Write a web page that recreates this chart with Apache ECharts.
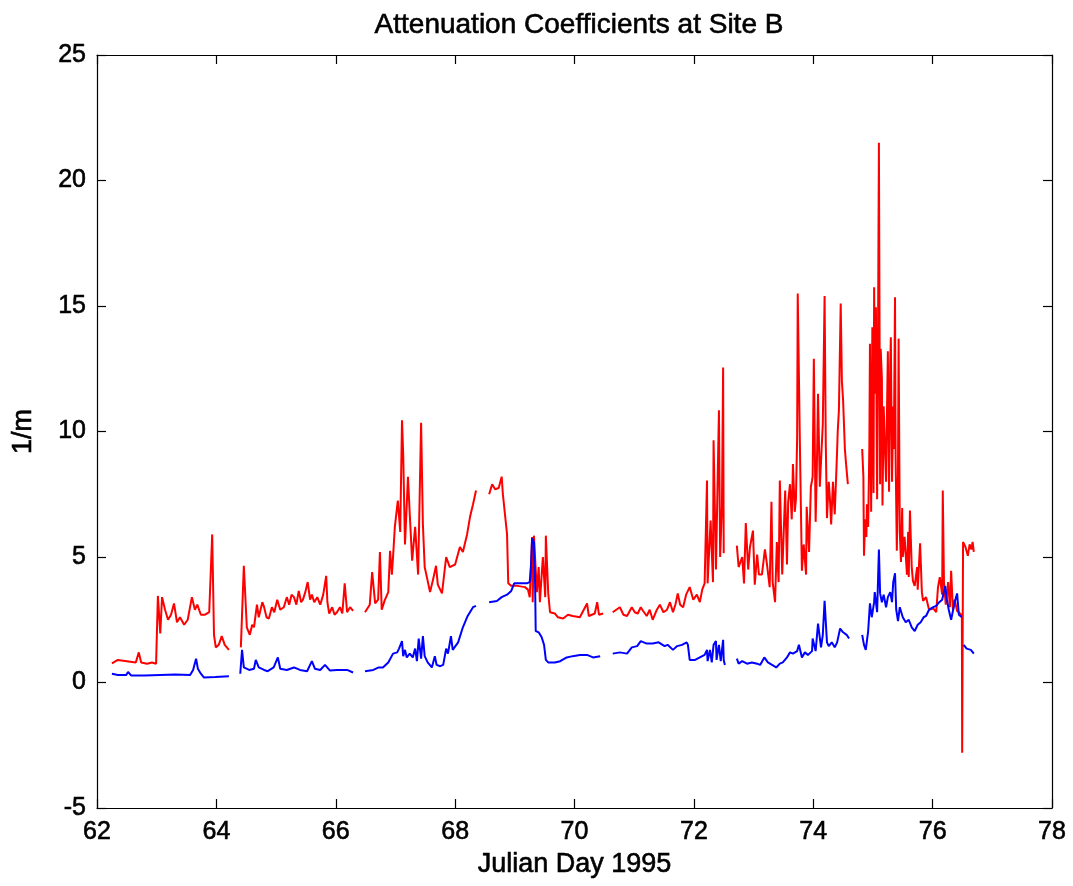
<!DOCTYPE html>
<html>
<head>
<meta charset="utf-8">
<script src="https://cdn.jsdelivr.net/npm/echarts@6/dist/echarts.min.js"></script>
<style>
  html, body { margin: 0; padding: 0; background: #fff; }
  #chart { width: 1073px; height: 886px; }
</style>
</head>
<body>
<div id="chart"></div>
<script>
// Julian day / coefficient pairs, null value = gap in the record
var redDay = [
  62.25, 62.35, 62.5, 62.65, 62.70, 62.74, 62.84, 62.92, 62.99, 63.02, 63.06, 63.09, 63.14, 63.19, 63.24, 63.29, 63.34, 63.39, 63.46, 63.52,
  63.59, 63.64, 63.68, 63.74, 63.81, 63.88, 63.93, 63.96, 63.99, 64.04, 64.09, 64.14, 64.21, 64.3,
  64.41, 64.46, 64.51, 64.56, 64.60, 64.63, 64.68, 64.71, 64.73, 64.77, 64.80, 64.84, 64.88, 64.93, 64.97, 65.02, 65.07, 65.13, 65.18, 65.22,
  65.26, 65.30, 65.34, 65.38, 65.42, 65.45, 65.49, 65.53, 65.57, 65.60, 65.64, 65.69, 65.74, 65.79, 65.84, 65.86, 65.89, 65.94, 65.98, 66.02,
  66.07, 66.11, 66.15, 66.19, 66.24, 66.29, 66.4,
  66.49, 66.57, 66.61, 66.66, 66.71, 66.74, 66.77, 66.82, 66.88, 66.91, 66.94, 66.96, 66.99, 67.04, 67.08, 67.11, 67.13, 67.16, 67.21, 67.24,
  67.28, 67.33, 67.38, 67.43, 67.46, 67.49, 67.54, 67.58, 67.63, 67.68, 67.71, 67.78, 67.85, 67.91, 68.0, 68.08, 68.13, 68.20, 68.25, 68.30,
  68.35, 68.45,
  68.57, 68.62, 68.67, 68.73, 68.78, 68.80, 68.87, 68.89, 68.94, 69.04, 69.17, 69.22, 69.25, 69.29, 69.30, 69.32, 69.37, 69.40, 69.42, 69.47,
  69.51, 69.52, 69.56, 69.59, 69.67, 69.72, 69.81, 69.89, 69.97, 70.09, 70.21, 70.24, 70.34, 70.38, 70.41, 70.48, 70.55,
  70.64, 70.70, 70.76, 70.82, 70.88, 70.96, 71.01, 71.06, 71.11, 71.15, 71.21, 71.26, 71.31, 71.38, 71.43, 71.49, 71.55, 71.60, 71.65, 71.69,
  71.73, 71.77, 71.82, 71.87, 71.93, 71.99, 72.05, 72.10, 72.14, 72.18, 72.22, 72.23,
  72.28, 72.32, 72.33, 72.37, 72.40, 72.42, 72.44, 72.47, 72.49, 72.50, 72.6,
  72.72, 72.75, 72.81, 72.84, 72.87, 72.91, 72.94, 72.99, 73.02, 73.06, 73.09, 73.14, 73.19, 73.22, 73.27, 73.30, 73.32, 73.36, 73.39, 73.42,
  73.44, 73.48, 73.53, 73.56, 73.58, 73.61, 73.64, 73.66, 73.69, 73.71, 73.73, 73.74, 73.78, 73.79, 73.81, 73.84, 73.88, 73.89, 73.93, 73.96,
  73.98, 73.99, 74.01, 74.04, 74.06, 74.08, 74.11, 74.14, 74.16, 74.19, 74.21, 74.23, 74.26, 74.28, 74.30, 74.33, 74.36, 74.40, 74.41, 74.43,
  74.46, 74.48, 74.50, 74.51, 74.53, 74.55, 74.58, 74.7,
  74.82, 74.84, 74.85, 74.87, 74.89, 74.90, 74.92, 74.94, 74.95, 74.97, 74.99, 75.00, 75.01, 75.02, 75.03, 75.05, 75.07, 75.08, 75.10, 75.12,
  75.13, 75.15, 75.16, 75.18, 75.20, 75.22, 75.23, 75.25, 75.27, 75.29, 75.30, 75.32, 75.34, 75.35, 75.37, 75.38, 75.40, 75.42, 75.43, 75.45,
  75.47, 75.49, 75.50, 75.53, 75.57, 75.59, 75.60, 75.62, 75.65, 75.67, 75.70, 75.74, 75.75, 75.79, 75.82, 75.84, 75.89, 75.94, 76.01, 76.06,
  76.09, 76.12, 76.16, 76.17, 76.19, 76.22, 76.26, 76.29, 76.31, 76.34, 76.37, 76.41, 76.46, 76.49, 76.495, 76.51, 76.55, 76.59, 76.62, 76.65,
  76.67, 76.69
];
var redVal = [
  0.76, 0.9, 0.85, 0.8, 1.2, 0.8, 0.75, 0.8, 0.75, 3.45, 1.95, 3.4, 2.9, 2.5, 2.7, 3.15, 2.4, 2.6, 2.3, 2.5,
  3.4, 2.9, 3.1, 2.7, 2.7, 2.8, 5.9, 1.9, 1.4, 1.5, 1.85, 1.5, 1.3, null,
  1.4, 4.65, 2.2, 1.9, 2.3, 2.2, 3.1, 2.6, 2.8, 3.2, 3.0, 2.6, 2.55, 3.0, 2.8, 3.3, 2.9, 3.0, 3.4, 3.1,
  3.5, 3.4, 3.1, 3.65, 3.2, 3.3, 3.6, 4.0, 3.3, 3.5, 3.2, 3.4, 3.1, 3.5, 4.25, 3.2, 2.75, 3.0, 2.7, 2.8,
  3.0, 2.75, 3.95, 2.8, 3.0, 2.85, null,
  2.8, 3.1, 4.4, 3.15, 3.3, 5.2, 2.9, 3.27, 3.6, 5.25, 4.3, 5.0, 6.2, 7.25, 6.0, 10.45, 9.1, 5.5, 8.2, 6.7,
  4.85, 6.2, 4.3, 10.35, 6.3, 4.6, 4.05, 3.6, 4.1, 4.65, 3.9, 3.55, 5.0, 4.6, 4.7, 5.4, 5.2, 5.9, 6.6, 7.1,
  7.65, null,
  7.5, 7.9, 7.7, 7.75, 8.2, 7.5, 5.9, 3.95, 3.85, 3.85, 3.8, 3.7, 3.4, 5.8, 3.2, 5.85, 3.6, 4.6, 3.2, 5.0,
  3.4, 5.85, 3.55, 2.8, 2.75, 2.6, 2.55, 2.7, 2.65, 2.6, 3.15, 2.65, 2.75, 3.2, 2.7, 2.75, null,
  2.8, 2.9, 3.0, 2.7, 2.65, 3.0, 2.8, 2.75, 3.0, 2.85, 2.65, 2.9, 2.5, 2.9, 3.1, 2.8, 2.9, 3.2, 2.8, 3.1,
  3.55, 3.1, 3.0, 3.5, 3.8, 3.3, 3.5, 3.2, 3.7, 3.95, 8.05, 3.95,
  6.45, 4.0, 9.65, 4.5, 8.3, 10.85, 5.0, 7.0, 12.55, 5.15, null,
  5.45, 4.6, 5.0, 3.95, 6.35, 4.5, 5.4, 6.05, 3.9, 5.1, 4.3, 4.3, 5.3, 4.8, 3.8, 7.2, 4.0, 3.2, 5.6, 4.0,
  8.05, 4.3, 7.65, 4.7, 7.2, 7.9, 6.5, 8.7, 6.8, 7.3, 9.75, 15.5, 8.9, 7.4, 4.45, 5.5, 4.3, 7.0, 5.2, 7.8,
  8.05, 8.2, 12.9, 6.4, 8.5, 11.5, 7.8, 9.3, 10.3, 15.4, 9.5, 6.55, 8.0, 7.3, 6.3, 8.0, 6.7, 9.25, 10.0, 10.85,
  15.1, 12.0, 11.25, 10.6, 9.3, 8.7, 7.9, null,
  9.3, 8.2, 5.05, 6.5, 5.8, 7.1, 6.2, 9.4, 13.5, 6.8, 14.15, 10.5, 7.55, 15.75, 11.5, 14.95, 7.3, 11.0, 21.5, 7.9,
  13.3, 12.1, 7.05, 11.0, 9.4, 8.0, 9.9, 13.2, 7.6, 12.7, 13.75, 8.0, 11.0, 9.3, 15.35, 9.0, 5.25, 8.3, 13.7, 6.0,
  4.8, 6.95, 5.0, 5.8, 4.3, 6.0, 4.2, 6.85, 4.6, 4.05, 3.85, 4.6, 3.7, 5.55, 3.6, 3.25, 3.4, 2.9, 2.95, 2.8,
  3.8, 4.2, 3.5, 7.65, 4.0, 3.1, 4.0, 3.0, 4.45, 2.9, 3.3, 2.85, 2.75, 2.65, -2.8, 5.6, 5.4, 5.05, 5.5, 5.3,
  5.6, 5.2
];

var blueDay = [
  62.25, 62.35, 62.49, 62.52, 62.57, 62.80, 63.06, 63.31, 63.56, 63.61, 63.66, 63.69, 63.74, 63.79, 63.98, 64.21, 64.3,
  64.40, 64.43, 64.46, 64.55, 64.63, 64.66, 64.71, 64.80, 64.86, 64.96, 65.03, 65.07, 65.18, 65.30, 65.40, 65.52, 65.60, 65.65, 65.74, 65.82,
  65.90, 66.02, 66.19, 66.29, 66.4,
  66.49, 66.63, 66.72, 66.79, 66.88, 66.96, 67.03, 67.06, 67.11, 67.13, 67.16, 67.19, 67.24, 67.29, 67.33, 67.36, 67.39, 67.43, 67.46, 67.49,
  67.54, 67.61, 67.66, 67.69, 67.75, 67.80, 67.85, 67.88, 67.93, 67.96, 68.05, 68.13, 68.21, 68.30, 68.35, 68.45,
  68.57, 68.70, 68.78, 68.87, 68.94, 68.99, 69.09, 69.20, 69.25, 69.27, 69.29, 69.32, 69.34, 69.35, 69.40, 69.45, 69.49, 69.52, 69.56, 69.67,
  69.76, 69.87, 69.97, 70.09, 70.21, 70.31, 70.43, 70.55,
  70.64, 70.76, 70.88, 70.96, 71.05, 71.11, 71.21, 71.31, 71.41, 71.51, 71.56, 71.65, 71.72, 71.80, 71.88, 71.90, 71.93, 72.02, 72.10, 72.18,
  72.22, 72.23, 72.27, 72.30, 72.33, 72.37, 72.38, 72.42, 72.45, 72.49, 72.50, 72.52, 72.6,
  72.72, 72.75, 72.81, 72.89, 72.97, 73.06, 73.11, 73.18, 73.24, 73.31, 73.38, 73.44, 73.49, 73.56, 73.61, 73.66, 73.73, 73.76, 73.81, 73.86,
  73.91, 73.98, 73.99, 74.04, 74.08, 74.13, 74.16, 74.19, 74.23, 74.26, 74.31, 74.36, 74.40, 74.45, 74.50, 74.53, 74.56, 74.60, 74.7,
  74.82, 74.85, 74.88, 74.92, 74.95, 74.98, 75.02, 75.03, 75.07, 75.10, 75.12, 75.15, 75.18, 75.22, 75.25, 75.29, 75.32, 75.34, 75.37, 75.39,
  75.42, 75.45, 75.50, 75.55, 75.60, 75.65, 75.70, 75.75, 75.80, 75.85, 75.89, 75.94, 76.01, 76.06, 76.11, 76.16, 76.21, 76.24, 76.27, 76.31,
  76.34, 76.37, 76.41, 76.44, 76.49, 76.505,
  76.52, 76.57, 76.64, 76.69
];
var blueVal = [
  0.35, 0.3, 0.3, 0.42, 0.28, 0.28, 0.3, 0.32, 0.3, 0.5, 0.95, 0.55, 0.35, 0.2, 0.22, 0.25, null,
  0.35, 1.3, 0.6, 0.5, 0.55, 0.9, 0.6, 0.5, 0.45, 0.6, 1.0, 0.55, 0.5, 0.6, 0.5, 0.45, 0.85, 0.55, 0.5, 0.7,
  0.48, 0.5, 0.5, 0.4, null,
  0.45, 0.5, 0.6, 0.6, 0.8, 1.15, 1.2, 1.35, 1.65, 1.05, 1.3, 1.0, 1.15, 1.0, 1.35, 0.85, 1.75, 0.95, 1.85, 1.05,
  0.8, 0.6, 1.05, 0.7, 0.65, 0.7, 1.35, 1.15, 1.85, 1.3, 1.6, 2.2, 2.65, 3.0, 3.05, null,
  3.2, 3.25, 3.4, 3.5, 3.65, 3.95, 3.95, 3.95, 4.0, 4.6, 5.75, 5.6, 3.9, 2.05, 2.0, 1.8, 1.5, 0.9, 0.8, 0.8,
  0.85, 1.0, 1.05, 1.1, 1.1, 1.0, 1.05, null,
  1.15, 1.2, 1.15, 1.4, 1.45, 1.65, 1.55, 1.55, 1.6, 1.45, 1.5, 1.3, 1.45, 1.5, 1.6, 1.5, 0.9, 0.9, 1.0, 1.1,
  1.3, 0.85, 1.3, 0.8, 1.5, 1.65, 0.9, 1.5, 0.85, 1.7, 0.9, 0.7, null,
  0.95, 0.75, 0.85, 0.75, 0.8, 0.75, 0.7, 1.0, 0.8, 0.7, 0.6, 0.75, 0.8, 1.0, 1.2, 1.15, 1.25, 1.5, 1.0, 1.2,
  1.1, 1.25, 1.75, 1.25, 2.35, 1.4, 1.9, 3.25, 1.6, 1.45, 1.6, 1.4, 1.6, 2.15, 2.0, 2.05, 1.9, 1.75, null,
  1.9, 1.5, 1.3, 2.05, 3.15, 2.6, 3.2, 3.6, 2.8, 5.3, 3.55, 3.2, 3.5, 3.0, 3.4, 3.6, 3.2, 4.0, 4.35, 2.9,
  2.45, 3.0, 2.6, 2.4, 2.5, 2.2, 2.05, 2.3, 2.4, 2.6, 2.65, 2.9, 3.0, 3.05, 3.2, 3.3, 3.85, 3.3, 2.9, 2.5,
  2.55, 3.2, 3.55, 2.7, 2.6, null,
  1.5, 1.35, 1.3, 1.15
];

var xTicks = [62, 64, 66, 68, 70, 72, 74, 76, 78];
var yTicks = [-5, 0, 5, 10, 15, 20, 25];

function zip(xs, ys) {
    var out = [];
    for (var i = 0; i < xs.length; i++) {
        out.push([xs[i], ys[i]]);
    }
    return out;
}

var chart = echarts.init(document.getElementById('chart'), null, {renderer: 'canvas'});

var font = 'Liberation Sans, Arial, sans-serif';
// a thin stroke gives the slightly heavier look of the original lettering
var tickStyle = {color: '#000', fontSize: 25, fontFamily: font, textBorderColor: '#000', textBorderWidth: 0.6};
var nameStyle = {color: '#000', fontSize: 27, fontFamily: font, textBorderColor: '#000', textBorderWidth: 0.6};

// inside ticks on all four sides of the box
function xAx(pos, withLabels) {
    return {
        type: 'value',
        position: pos,
        min: xTicks[0],
        max: xTicks[xTicks.length - 1],
        interval: 2,
        axisLine: {show: true, onZero: false, lineStyle: {color: '#000', width: 1.2}},
        axisTick: {show: true, inside: true, length: 9, lineStyle: {color: '#000', width: 1.2}},
        axisLabel: withLabels ? Object.assign({show: true, margin: 12}, tickStyle) : {show: false},
        splitLine: {show: false},
        name: withLabels ? 'Julian Day 1995' : '',
        nameLocation: 'middle',
        nameGap: 43,
        nameTextStyle: nameStyle
    };
}
function yAx(pos, withLabels) {
    return {
        type: 'value',
        position: pos,
        min: yTicks[0],
        max: yTicks[yTicks.length - 1],
        interval: 5,
        axisLine: {show: true, onZero: false, lineStyle: {color: '#000', width: 1.2}},
        axisTick: {show: true, inside: true, length: 9, lineStyle: {color: '#000', width: 1.2}},
        axisLabel: withLabels ? Object.assign({show: true, margin: 11}, tickStyle) : {show: false},
        splitLine: {show: false},
        name: withLabels ? '1/m' : '',
        nameLocation: 'middle',
        nameGap: 60,
        nameRotate: 90,
        nameTextStyle: nameStyle
    };
}

var option = {
    backgroundColor: '#fff',
    animation: false,
    title: {
        text: 'Attenuation Coefficients at Site B',
        left: 574,
        top: 6,
        textAlign: 'center',
        textStyle: {color: '#000', fontSize: 28, fontWeight: 'normal', fontFamily: font, textBorderColor: '#000', textBorderWidth: 0.6}
    },
    grid: {left: 97, right: 21, top: 55, bottom: 78, containLabel: false},
    xAxis: [xAx('bottom', true), xAx('top', false)],
    yAxis: [yAx('left', true), yAx('right', false)],
    series: [
        {
            name: 'red',
            type: 'line',
            data: zip(redDay, redVal),
            showSymbol: false,
            symbol: 'none',
            connectNulls: false,
            lineStyle: {color: '#ff0000', width: 2},
            z: 2
        },
        {
            name: 'blue',
            type: 'line',
            data: zip(blueDay, blueVal),
            showSymbol: false,
            symbol: 'none',
            connectNulls: false,
            lineStyle: {color: '#0000ff', width: 2},
            z: 3
        }
    ]
};
chart.setOption(option);
</script>
</body>
</html>
